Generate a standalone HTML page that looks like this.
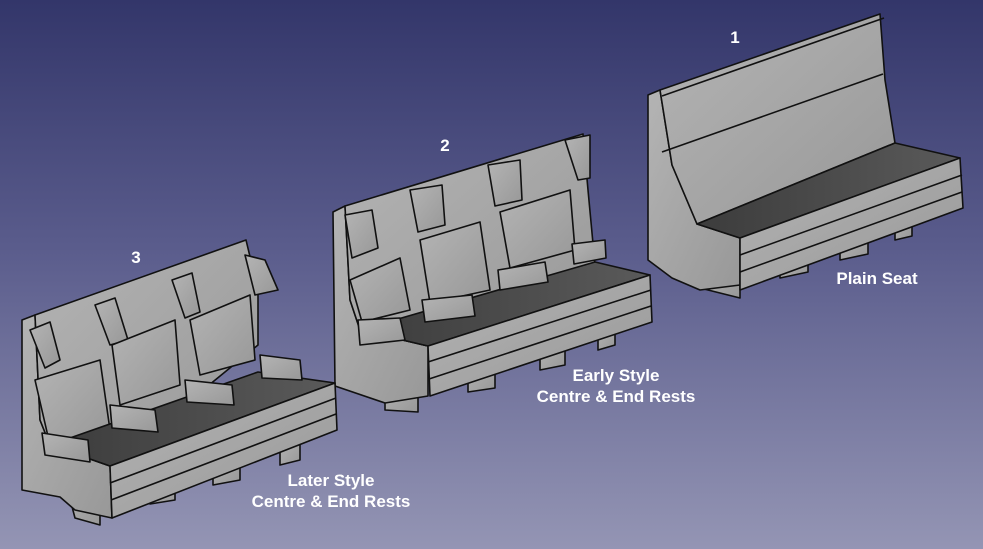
<!DOCTYPE html>
<html><head><style>
html,body{margin:0;padding:0}
body{width:983px;height:549px;overflow:hidden;background:linear-gradient(180deg,#33366a 0%,#5a5c8c 45%,#9495b4 100%);font-family:"Liberation Sans",sans-serif}
svg{position:absolute;left:0;top:0}
</style></head><body>
<svg width="983" height="549" viewBox="0 0 983 549">
<defs>
<linearGradient id="g" x1="0" y1="0" x2="1" y2="1"><stop offset="0" stop-color="#b4b4b4"/><stop offset="1" stop-color="#989898"/></linearGradient>
<linearGradient id="d" x1="0" y1="0" x2="1" y2="0"><stop offset="0" stop-color="#3c3c3c"/><stop offset="1" stop-color="#5a5a5a"/></linearGradient>
</defs>
<g stroke="#111" stroke-width="1.6" stroke-linejoin="round" fill="url(#g)">
<!-- Seat 1 -->
<polygon points="700,275 740,262 740,298 700,288"/>
<polygon points="780,258 808,250 808,272 780,278"/>
<polygon points="840,240 868,232 868,254 840,260"/>
<polygon points="895,222 912,216 912,236 895,240"/>
<polygon points="648,95 660,90 672,165 697,224 740,238 740,285 700,290 672,278 648,260"/>
<polygon points="660,90 880,14 885,80 895,143 697,224 672,165"/>
<line x1="662" y1="152" x2="883" y2="74"/>
<line x1="662" y1="96" x2="884" y2="18"/>
<polygon points="697,224 895,143 960,158 740,238" fill="url(#d)"/>
<polygon points="740,238 960,158 963,208 740,290"/>
<line x1="740" y1="255" x2="962" y2="175"/>
<line x1="740" y1="272" x2="962" y2="192"/>
<!-- Seat 2 -->
<polygon points="385,390 418,382 418,412 385,410"/>
<polygon points="468,370 495,362 495,388 468,392"/>
<polygon points="540,348 565,340 565,365 540,370"/>
<polygon points="598,330 615,325 615,345 598,350"/>
<polygon points="333,212 345,206 350,300 360,330 428,346 428,396 385,403 335,386"/>
<polygon points="345,206 583,134 588,190 595,265 428,346 360,330 350,300"/>
<polygon points="345,215 372,210 378,248 352,258"/>
<polygon points="410,190 442,185 445,225 418,232"/>
<polygon points="488,165 520,160 522,200 495,206"/>
<polygon points="565,140 590,135 590,178 578,180"/>
<polygon points="350,280 400,258 410,310 362,322"/>
<polygon points="420,240 480,222 490,290 430,303"/>
<polygon points="500,212 570,190 575,250 510,268"/>
<polygon points="360,330 595,262 650,275 428,346" fill="url(#d)"/>
<polygon points="358,320 400,318 405,340 360,345"/>
<polygon points="422,300 472,295 475,316 425,322"/>
<polygon points="498,270 545,262 548,282 500,290"/>
<polygon points="572,244 605,240 606,258 574,264"/>
<polygon points="428,346 650,275 652,322 430,396"/>
<line x1="428" y1="362" x2="651" y2="290"/>
<line x1="429" y1="379" x2="651" y2="306"/>
<!-- Seat 3 -->
<polygon points="65,480 100,492 100,525 75,518"/>
<polygon points="150,480 175,475 175,500 150,504"/>
<polygon points="213,463 240,458 240,480 213,485"/>
<polygon points="280,445 300,440 300,460 280,465"/>
<polygon points="22,320 35,315 40,420 50,445 110,466 112,518 75,510 60,497 22,490"/>
<polygon points="35,315 246,240 258,290 258,345 110,466 50,445 40,420"/>
<polygon points="30,330 50,322 60,360 45,368"/>
<polygon points="95,305 115,298 128,340 110,345"/>
<polygon points="172,280 192,273 200,312 185,318"/>
<polygon points="245,255 265,260 278,290 255,295"/>
<polygon points="35,380 100,360 110,430 50,445"/>
<polygon points="112,345 175,320 180,385 120,405"/>
<polygon points="190,320 250,295 255,360 200,375"/>
<polygon points="50,445 258,372 335,383 110,466" fill="url(#d)"/>
<polygon points="42,433 88,440 90,462 45,455"/>
<polygon points="110,405 155,410 158,432 112,428"/>
<polygon points="185,380 232,385 234,405 187,402"/>
<polygon points="260,355 300,360 302,380 262,378"/>
<polygon points="110,466 335,383 337,430 112,518"/>
<line x1="110" y1="483" x2="336" y2="398"/>
<line x1="111" y1="500" x2="336" y2="414"/>
</g>
<g fill="#fff" font-weight="bold" font-size="17" text-anchor="middle">
<text x="735" y="43">1</text>
<text x="445" y="151">2</text>
<text x="136" y="263">3</text>
<text x="877" y="284">Plain Seat</text>
<text x="616" y="381">Early Style</text>
<text x="616" y="402">Centre &amp; End Rests</text>
<text x="331" y="486">Later Style</text>
<text x="331" y="507">Centre &amp; End Rests</text>
</g>
</svg>
</body></html>
